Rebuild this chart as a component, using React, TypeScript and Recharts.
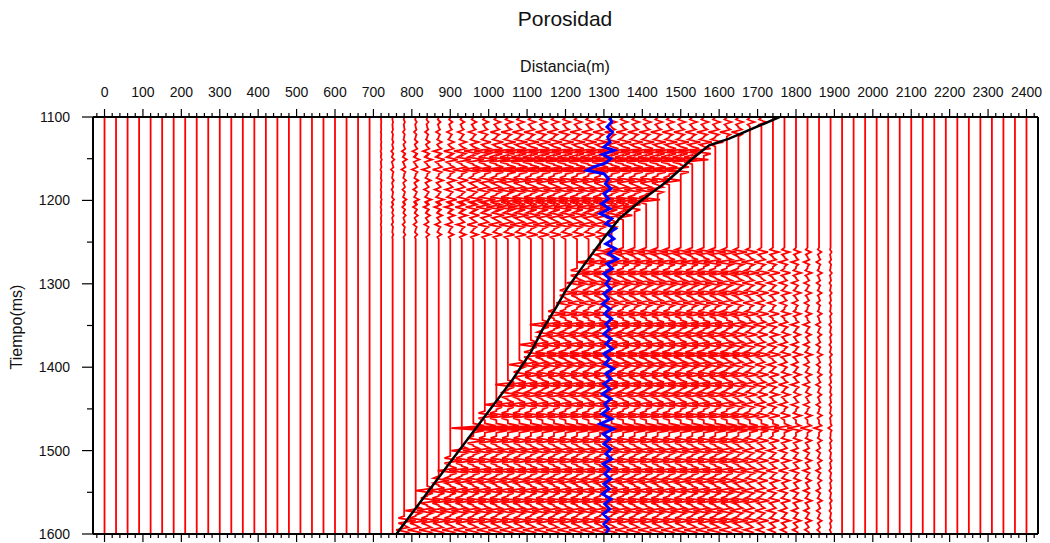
import React from 'react'
import { LineChart, Line, XAxis, YAxis } from 'recharts'

// trace positions along the line (m)
const traceOffsets = [
  0, 30, 60, 90, 120, 150, 180, 210, 240, 270, 300, 330, 360, 390, 420, 450, 480, 510, 540, 570,
  600, 630, 660, 690, 720, 750, 780, 810, 840, 870, 900, 930, 960, 990, 1020, 1050, 1080, 1110,
  1140, 1170, 1200, 1230, 1260, 1290, 1320, 1350, 1380, 1410, 1440, 1470, 1500, 1530, 1560, 1590,
  1620, 1650, 1680, 1710, 1740, 1770, 1800, 1830, 1860, 1890, 1920, 1950, 1980, 2010, 2040, 2070,
  2100, 2130, 2160, 2190, 2220, 2250, 2280, 2310, 2340, 2370, 2400,
]

const distTicks = [
  0, 100, 200, 300, 400, 500, 600, 700, 800, 900, 1000, 1100, 1200, 1300, 1400, 1500, 1600, 1700,
  1800, 1900, 2000, 2100, 2200, 2300, 2400,
]
const timeTicks = [1100, 1200, 1300, 1400, 1500, 1600]

// reflection events: [time ms, amplitude]
const upperEvents: [number, number][] = [
  [1106, 0.4], [1118, -0.6], [1130, 0.7], [1141, -1.2], [1151, 1.4], [1163, -1.4],
  [1176, 1.0], [1187, -0.9], [1199, 1.2], [1208, -1.0], [1218, 0.8], [1229, -0.8], [1241, 0.6],
]
const lowerEvents: [number, number][] = [
  [1262, 0.9], [1274, -1.0], [1287, 1.1], [1299, -0.9], [1311, 1.0], [1323, -0.8], [1336, 1.0],
  [1349, -1.1], [1361, 0.9], [1373, -1.0], [1385, 1.2], [1397, -0.9], [1409, 1.0], [1421, -1.1],
  [1433, 0.9], [1445, -1.0], [1458, 1.1], [1473, -1.9], [1488, 1.0], [1500, -0.9], [1512, 1.0],
  [1524, -1.1], [1536, 0.9], [1548, -1.0], [1560, 1.1], [1572, -0.9], [1584, 1.0], [1595, -0.7],
]
const waveletOffsets = [-5.5, -3, -1.2, 0, 1.2, 3, 5.5]
const waveletShape = [0, -0.5, 0.35, 1, 0.35, -0.5, 0]

// interpreted horizon (black line): [distance m, time ms]
const horizon: [number, number][] = [
  [1757, 1100], [1626, 1126], [1574, 1134], [1530, 1150], [1462, 1178], [1392, 1202],
  [1340, 1222], [1300, 1245], [1244, 1280], [1202, 1307], [1176, 1328], [1140, 1355],
  [1110, 1382], [1062, 1415], [846, 1547], [760, 1600],
]

// gain by distance for the two packages
const upperTaper: [number, number][] = [
  [700, 0], [760, 0.12], [820, 0.25], [880, 0.4], [940, 0.6], [1000, 0.8], [1060, 1], [2400, 1],
]
const lowerTaper: [number, number][] = [
  [0, 1], [1600, 1], [1660, 0.8], [1720, 0.6], [1780, 0.45], [1840, 0.3], [1880, 0.15], [1910, 0],
]

// porosity log at the well: [time ms, distance m]
const wellLog: [number, number][] = [
  [1100, 1315], [1106, 1320], [1112, 1308], [1118, 1322], [1124, 1310], [1130, 1316], [1136, 1300],
  [1140, 1326], [1145, 1296], [1150, 1318], [1155, 1305], [1160, 1272], [1164, 1256], [1168, 1300],
  [1174, 1312], [1180, 1304], [1186, 1318], [1192, 1300], [1198, 1312], [1204, 1294], [1210, 1315],
  [1216, 1290], [1222, 1320], [1228, 1305], [1234, 1330], [1240, 1310], [1246, 1326], [1252, 1305],
  [1258, 1330], [1264, 1312], [1270, 1335], [1276, 1308], [1282, 1322], [1288, 1300], [1294, 1315],
  [1300, 1305], [1306, 1318], [1312, 1300], [1318, 1312], [1324, 1296], [1330, 1315], [1336, 1302],
  [1342, 1320], [1348, 1305], [1354, 1315], [1360, 1300], [1366, 1318], [1372, 1305], [1378, 1322],
  [1384, 1300], [1390, 1315], [1396, 1302], [1402, 1325], [1408, 1305], [1414, 1318], [1420, 1300],
  [1426, 1315], [1432, 1296], [1438, 1318], [1444, 1302], [1450, 1312], [1456, 1295], [1462, 1320],
  [1468, 1290], [1474, 1325], [1480, 1298], [1486, 1315], [1492, 1300], [1498, 1318], [1504, 1305],
  [1510, 1320], [1516, 1298], [1522, 1315], [1528, 1302], [1534, 1318], [1540, 1300], [1546, 1314],
  [1552, 1296], [1558, 1318], [1564, 1302], [1570, 1315], [1576, 1298], [1582, 1312], [1588, 1300],
  [1594, 1312], [1600, 1305],
]

const SPLIT = 1255
const GAIN = 30

const lookup = (table: [number, number][], v: number) => {
  if (v <= table[0][0]) return table[0][1]
  for (let i = 1; i < table.length; i++) {
    const [a, fa] = table[i - 1]
    const [b, fb] = table[i]
    if (v <= b) return fa + ((v - a) / (b - a)) * (fb - fa)
  }
  return table[table.length - 1][1]
}

const horizonByTime = horizon.map(([m, t]) => [t, m] as [number, number])

const buildTrace = (pos: number) => {
  const pts = [{ t: 1100, x: pos }]
  const events = [...upperEvents, ...lowerEvents]
  events.forEach(([t, amp]) => {
    const edge = lookup(horizonByTime, t)
    let g = 0
    if (t < SPLIT) g = pos <= edge + 10 ? lookup(upperTaper, pos) : 0
    else g = pos >= edge - 10 ? lookup(lowerTaper, pos) : 0
    if (g <= 0) return
    waveletOffsets.forEach((o, i) => {
      pts.push({ t: t + o, x: pos + GAIN * g * amp * waveletShape[i] })
    })
  })
  pts.push({ t: 1600, x: pos })
  return pts
}

const traces = traceOffsets.map((p) => ({ pos: p, data: buildTrace(p) }))
const logData = wellLog.map(([t, x]) => ({ t, x }))
const horizonData = horizon.map(([x, t]) => ({ t, x }))

const distMinor = distTicks.flatMap((v) => [v, v + 20, v + 40, v + 60, v + 80]).concat([-20])
  .filter((v) => v <= 2420).sort((a, b) => a - b)
const timeMinor = timeTicks.flatMap((v) => (v < 1600 ? [v, v + 50] : [v]))

const TopTick = ({ x, y, payload }: any) => {
  const major = payload.value % 100 === 0
  return (
    <g>
      <line x1={x} x2={x} y1={y} y2={y - (major ? 8 : 4)} stroke="#000" strokeWidth={1.2} />
      {major && (
        <text x={x} y={y - 20} textAnchor="middle" fontSize={14} fill="#111">
          {payload.value}
        </text>
      )}
    </g>
  )
}

const BottomTick = ({ x, y, payload }: any) => {
  const major = payload.value % 100 === 0
  return <line x1={x} x2={x} y1={y} y2={y + (major ? 8 : 4)} stroke="#000" strokeWidth={1.2} />
}

const LeftTick = ({ x, y, payload }: any) => {
  const major = payload.value % 100 === 0
  return (
    <g>
      <line x1={x} x2={x - (major ? 11 : 6)} y1={y} y2={y} stroke="#000" strokeWidth={1.2} />
      {major && (
        <text x={x - 23} y={y + 5} textAnchor="end" fontSize={14} fill="#111">
          {payload.value}
        </text>
      )}
    </g>
  )
}

const RightTick = ({ x, y, payload }: any) => {
  const major = payload.value % 100 === 0
  return <line x1={x} x2={x + (major ? 11 : 6)} y1={y} y2={y} stroke="#000" strokeWidth={1.2} />
}

const axisLine = { stroke: '#000', strokeWidth: 2 }

export default function App() {
  return (
    <div
      style={{
        position: 'absolute', left: 0, top: 0, width: 1050, height: 543, background: '#fff',
        fontFamily: '"Liberation Sans", Arial, sans-serif',
      }}
    >
      <LineChart width={1050} height={543} layout="vertical" margin={{ top: 0, right: 0, bottom: 0, left: 0 }}>
        <XAxis
          xAxisId="top" orientation="top" type="number" dataKey="x" domain={[-30, 2430]}
          allowDataOverflow ticks={distMinor} interval={0} height={117}
          tickSize={0} tickMargin={0} tickLine={false} axisLine={axisLine} tick={<TopTick />}
        />
        <XAxis
          xAxisId="bottom" orientation="bottom" type="number" domain={[-30, 2430]}
          allowDataOverflow ticks={distMinor} interval={0} height={9}
          tickSize={0} tickMargin={0} tickLine={false} axisLine={axisLine} tick={<BottomTick />}
        />
        <YAxis
          yAxisId="left" orientation="left" type="number" dataKey="t" domain={[1100, 1600]}
          allowDataOverflow ticks={timeMinor} interval={0} width={93}
          tickSize={0} tickMargin={0} tickLine={false} axisLine={axisLine} tick={<LeftTick />}
        />
        <YAxis
          yAxisId="right" orientation="right" type="number" domain={[1100, 1600]}
          allowDataOverflow ticks={timeMinor} interval={0} width={12}
          tickSize={0} tickMargin={0} tickLine={false} axisLine={axisLine} tick={<RightTick />}
        />
        {traces.map((tr) => (
          <Line
            key={tr.pos} xAxisId="top" yAxisId="left" data={tr.data} dataKey="x" type="linear"
            stroke="#ff0000" strokeWidth={1.8} dot={false} activeDot={false} isAnimationActive={false}
          />
        ))}
        <Line
          xAxisId="top" yAxisId="left" data={logData} dataKey="x" type="linear"
          stroke="#0000ff" strokeWidth={3} dot={false} activeDot={false} isAnimationActive={false}
        />
        <Line
          xAxisId="top" yAxisId="left" data={horizonData} dataKey="x" type="linear"
          stroke="#000" strokeWidth={2.5} dot={false} activeDot={false} isAnimationActive={false}
        />
      </LineChart>
      <svg
        width={1050} height={543}
        style={{ position: 'absolute', left: 0, top: 0, pointerEvents: 'none' }}
      >
        <text x={565} y={26} textAnchor="middle" fontSize={21} fill="#111">Porosidad</text>
        <text x={565} y={72} textAnchor="middle" fontSize={16} fill="#111">Distancia(m)</text>
        <text x={22} y={327} textAnchor="middle" fontSize={16} fill="#111" transform="rotate(-90 22 327)">
          Tiempo(ms)
        </text>
      </svg>
    </div>
  )
}
